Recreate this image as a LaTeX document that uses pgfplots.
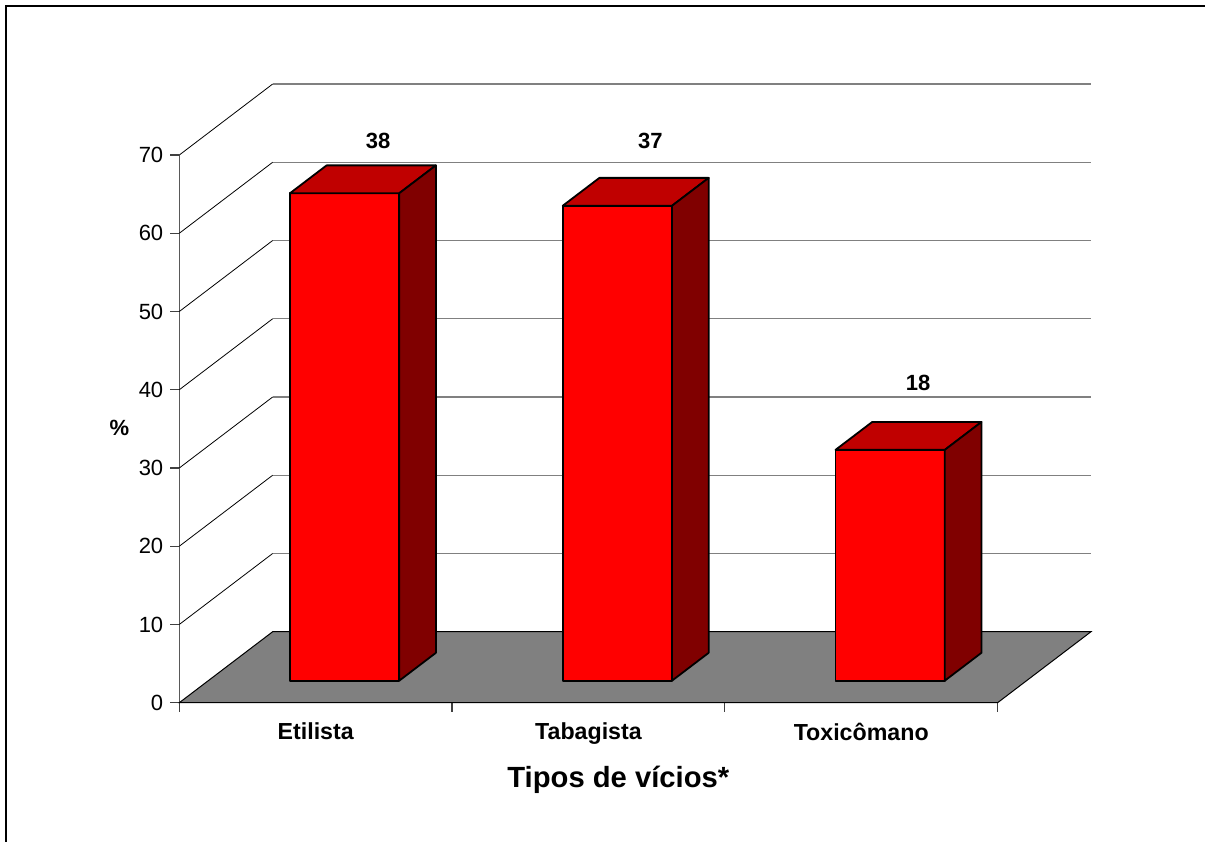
\documentclass[border=0pt]{standalone}
\usepackage{fontspec}
\setmainfont{Liberation Sans}
\usepackage{pgfplots}
\pgfplotsset{compat=1.18}
\definecolor{frontred}{HTML}{FF0000}
\definecolor{topred}{HTML}{C00000}
\definecolor{sidered}{HTML}{800000}
\definecolor{floorgray}{HTML}{808080}
% 3D bar: #1 = category position, #2 = value (%)
\newcommand\tdbar[2]{%
  \pgfmathsetmacro\xa{#1+0.106-0.2003}%
  \pgfmathsetmacro\xb{#1+0.106+0.2003}%
  \pgfmathsetmacro\ya{2.813}%
  \pgfmathsetmacro\yb{2.813+#2}%
  \pgfmathsetmacro\xc{\xa+0.1345}%
  \pgfmathsetmacro\xd{\xb+0.1345}%
  \pgfmathsetmacro\yc{\yb+3.566}%
  \pgfmathsetmacro\ye{\ya+3.566}%
  \addplot[draw=black, line width=0.9pt, fill=frontred, line join=round, forget plot]
    coordinates {(\xa,\ya) (\xb,\ya) (\xb,\yb) (\xa,\yb)} -- cycle;
  \addplot[draw=black, line width=0.9pt, fill=topred, line join=round, forget plot]
    coordinates {(\xa,\yb) (\xb,\yb) (\xd,\yc) (\xc,\yc)} -- cycle;
  \addplot[draw=black, line width=0.9pt, fill=sidered, line join=round, forget plot]
    coordinates {(\xb,\ya) (\xd,\ye) (\xd,\yc) (\xb,\yb)} -- cycle;
}
\begin{document}
\begin{tikzpicture}
\path[use as bounding box] (0pt,0pt) rectangle (602.5pt,-420.5pt);
\draw[line width=1pt] (2.9pt,-440pt) -- (2.9pt,-2.9pt) -- (620pt,-2.9pt);
\begin{axis}[
  at={(89.65pt,-351.35pt)}, anchor=south west,
  scale only axis, width=409.15pt, height=273.85pt,
  xmin=-0.5, xmax=2.5, ymin=0, ymax=70,
  clip=false,
  axis x line*=bottom, axis y line*=left,
  axis line style={draw=black!65, line width=0.6pt},
  tick style={draw=black!75, line width=0.6pt},
  tick align=outside, major tick length=4.5pt,
  ytick={0,10,...,70},
  xtick={-0.5,0.5,1.5,2.5}, xticklabels={},
  extra x ticks={0,1,2},
  extra x tick labels={Etilista,Tabagista,Toxicômano},
  extra x tick style={major tick length=0pt},
  xticklabel style={font=\fontsize{11.6}{13}\selectfont\bfseries, yshift=-6.5pt},
  yticklabel style={font=\fontsize{11}{13}\selectfont},
  /pgf/number format/assume math mode=true,
  xlabel={Tipos de vícios*},
  xlabel style={font=\fontsize{14.6}{17}\selectfont\bfseries, at={(axis description cs:0.5365,-0.141)}, anchor=center},
  ylabel={\%},
  ylabel style={font=\fontsize{11}{13}\selectfont\bfseries, rotate=-90, at={(axis description cs:-0.0733,0.5015)}, anchor=center},
]
% floor
\addplot[draw=black, line width=0.5pt, fill=floorgray, forget plot]
  coordinates {(-0.5,0) (2.5,0) (2.8424,9.075) (-0.1576,9.075)} -- cycle;
% back wall gridlines and side diagonals
\pgfplotsinvokeforeach{10,20,30,40,50,60,70}{%
  \pgfmathsetmacro\yg{#1+9.075}%
  \addplot[draw=floorgray, line width=0.7pt, forget plot]
    coordinates {(-0.1576,\yg) (2.8424,\yg)};
  \addplot[draw=black, line width=0.4pt, forget plot]
    coordinates {(-0.5,#1) (-0.1576,\yg)};
}
% bars (percent of 61)
\tdbar{0}{62.3}
\tdbar{1}{60.7}
\tdbar{2}{29.5}
% value labels (counts)
\addplot[draw=none, mark=none, forget plot,
  nodes near coords, point meta=explicit symbolic,
  nodes near coords style={font=\fontsize{11}{13}\selectfont\bfseries, anchor=center, inner sep=0pt}]
  table[meta=lab] {
x y lab
0.229 71.8 38
1.227 71.8 37
2.209 40.9 18
};
\end{axis}
\end{tikzpicture}
\end{document}
